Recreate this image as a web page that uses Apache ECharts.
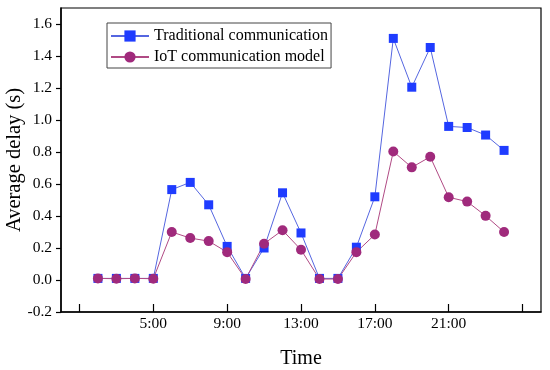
<!DOCTYPE html>
<html>
<head>
<meta charset="utf-8">
<script src="https://cdn.jsdelivr.net/npm/echarts@6/dist/echarts.min.js"></script>
<style>html,body{margin:0;padding:0;background:#fff}#c{width:550px;height:370px}</style>
</head>
<body>
<div id="c"></div>
<script>
var hours = [2,3,4,5,6,7,8,9,10,11,12,13,14,15,16,17,18,19,20,21,22,23,24];
var traditional = [0.01,0.01,0.01,0.01,0.565,0.61,0.47,0.21,0.01,0.20,0.545,0.294,0.01,0.01,0.205,0.52,1.51,1.205,1.453,0.96,0.953,0.906,0.81];
var iot = [0.01,0.008,0.01,0.008,0.30,0.262,0.243,0.174,0.006,0.227,0.311,0.189,0.006,0.006,0.174,0.284,0.803,0.704,0.77,0.517,0.49,0.401,0.30];
var xTicks = [1,5,9,13,17,21,25];
var xLabels = [5,9,13,17,21];
var yTicks = [-0.2,0,0.2,0.4,0.6,0.8,1.0,1.2,1.4,1.6];
var seriesNames = ['Traditional communication','IoT communication model'];

function pairs(xs, ys){ return xs.map(function(x,i){ return [x, ys[i]]; }); }
var font = 'Liberation Serif';
var chart = echarts.init(document.getElementById('c'));
chart.setOption({
  animation: false,
  textStyle: {fontFamily: font, color: '#000'},
  grid: {left: 61, right: 9, top: 8, bottom: 58, containLabel: false, outerBoundsMode: 'none', show: true, borderColor: '#000', borderWidth: 1.2},
  legend: {
    orient: 'vertical', left: 107, top: 23,
    borderColor: '#444', borderWidth: 1, padding: [5, 3, 3, 3],
    itemWidth: 38, itemHeight: 14, itemGap: 5,
    textStyle: {fontFamily: font, fontSize: 16, color: '#000'},
    data: seriesNames
  },
  xAxis: {
    type: 'value', min: 0, max: 26,
    name: 'Time', nameLocation: 'middle', nameGap: 37, nameMoveOverlap: false,
    nameTextStyle: {fontFamily: font, fontSize: 20, color: '#000'},
    axisLine: {show: true, onZero: false, lineStyle: {color: '#000', width: 1.5}},
    axisTick: {show: true, inside: true, length: 8, customValues: xTicks, lineStyle: {color: '#000', width: 1.2}},
    axisLabel: {customValues: xLabels, formatter: function(v){ return v + ':00'; }, fontFamily: font, fontSize: 15.5, color: '#000', margin: 4},
    splitLine: {show: false}
  },
  yAxis: {
    type: 'value', min: -0.2, max: 1.7,
    name: 'Average delay (s)', nameLocation: 'middle', nameGap: 36, nameMoveOverlap: false,
    nameTextStyle: {fontFamily: font, fontSize: 20.5, color: '#000'},
    axisLine: {show: true, onZero: false, lineStyle: {color: '#000', width: 1.5}},
    axisTick: {show: true, inside: false, length: 5, customValues: yTicks, lineStyle: {color: '#000', width: 1.2}},
    axisLabel: {customValues: yTicks, formatter: function(v){ return v.toFixed(1); }, fontFamily: font, fontSize: 15.5, color: '#000', margin: 9},
    splitLine: {show: false}
  },
  series: [
    {
      name: seriesNames[0], type: 'line', data: pairs(hours, traditional),
      symbol: 'rect', symbolSize: 9,
      itemStyle: {color: '#1f3cff'},
      lineStyle: {color: '#5566e0', width: 1}
    },
    {
      name: seriesNames[1], type: 'line', data: pairs(hours, iot),
      symbol: 'circle', symbolSize: 10,
      itemStyle: {color: '#a02a7c'},
      lineStyle: {color: '#b04a84', width: 1}
    }
  ]
});
</script>
</body>
</html>
